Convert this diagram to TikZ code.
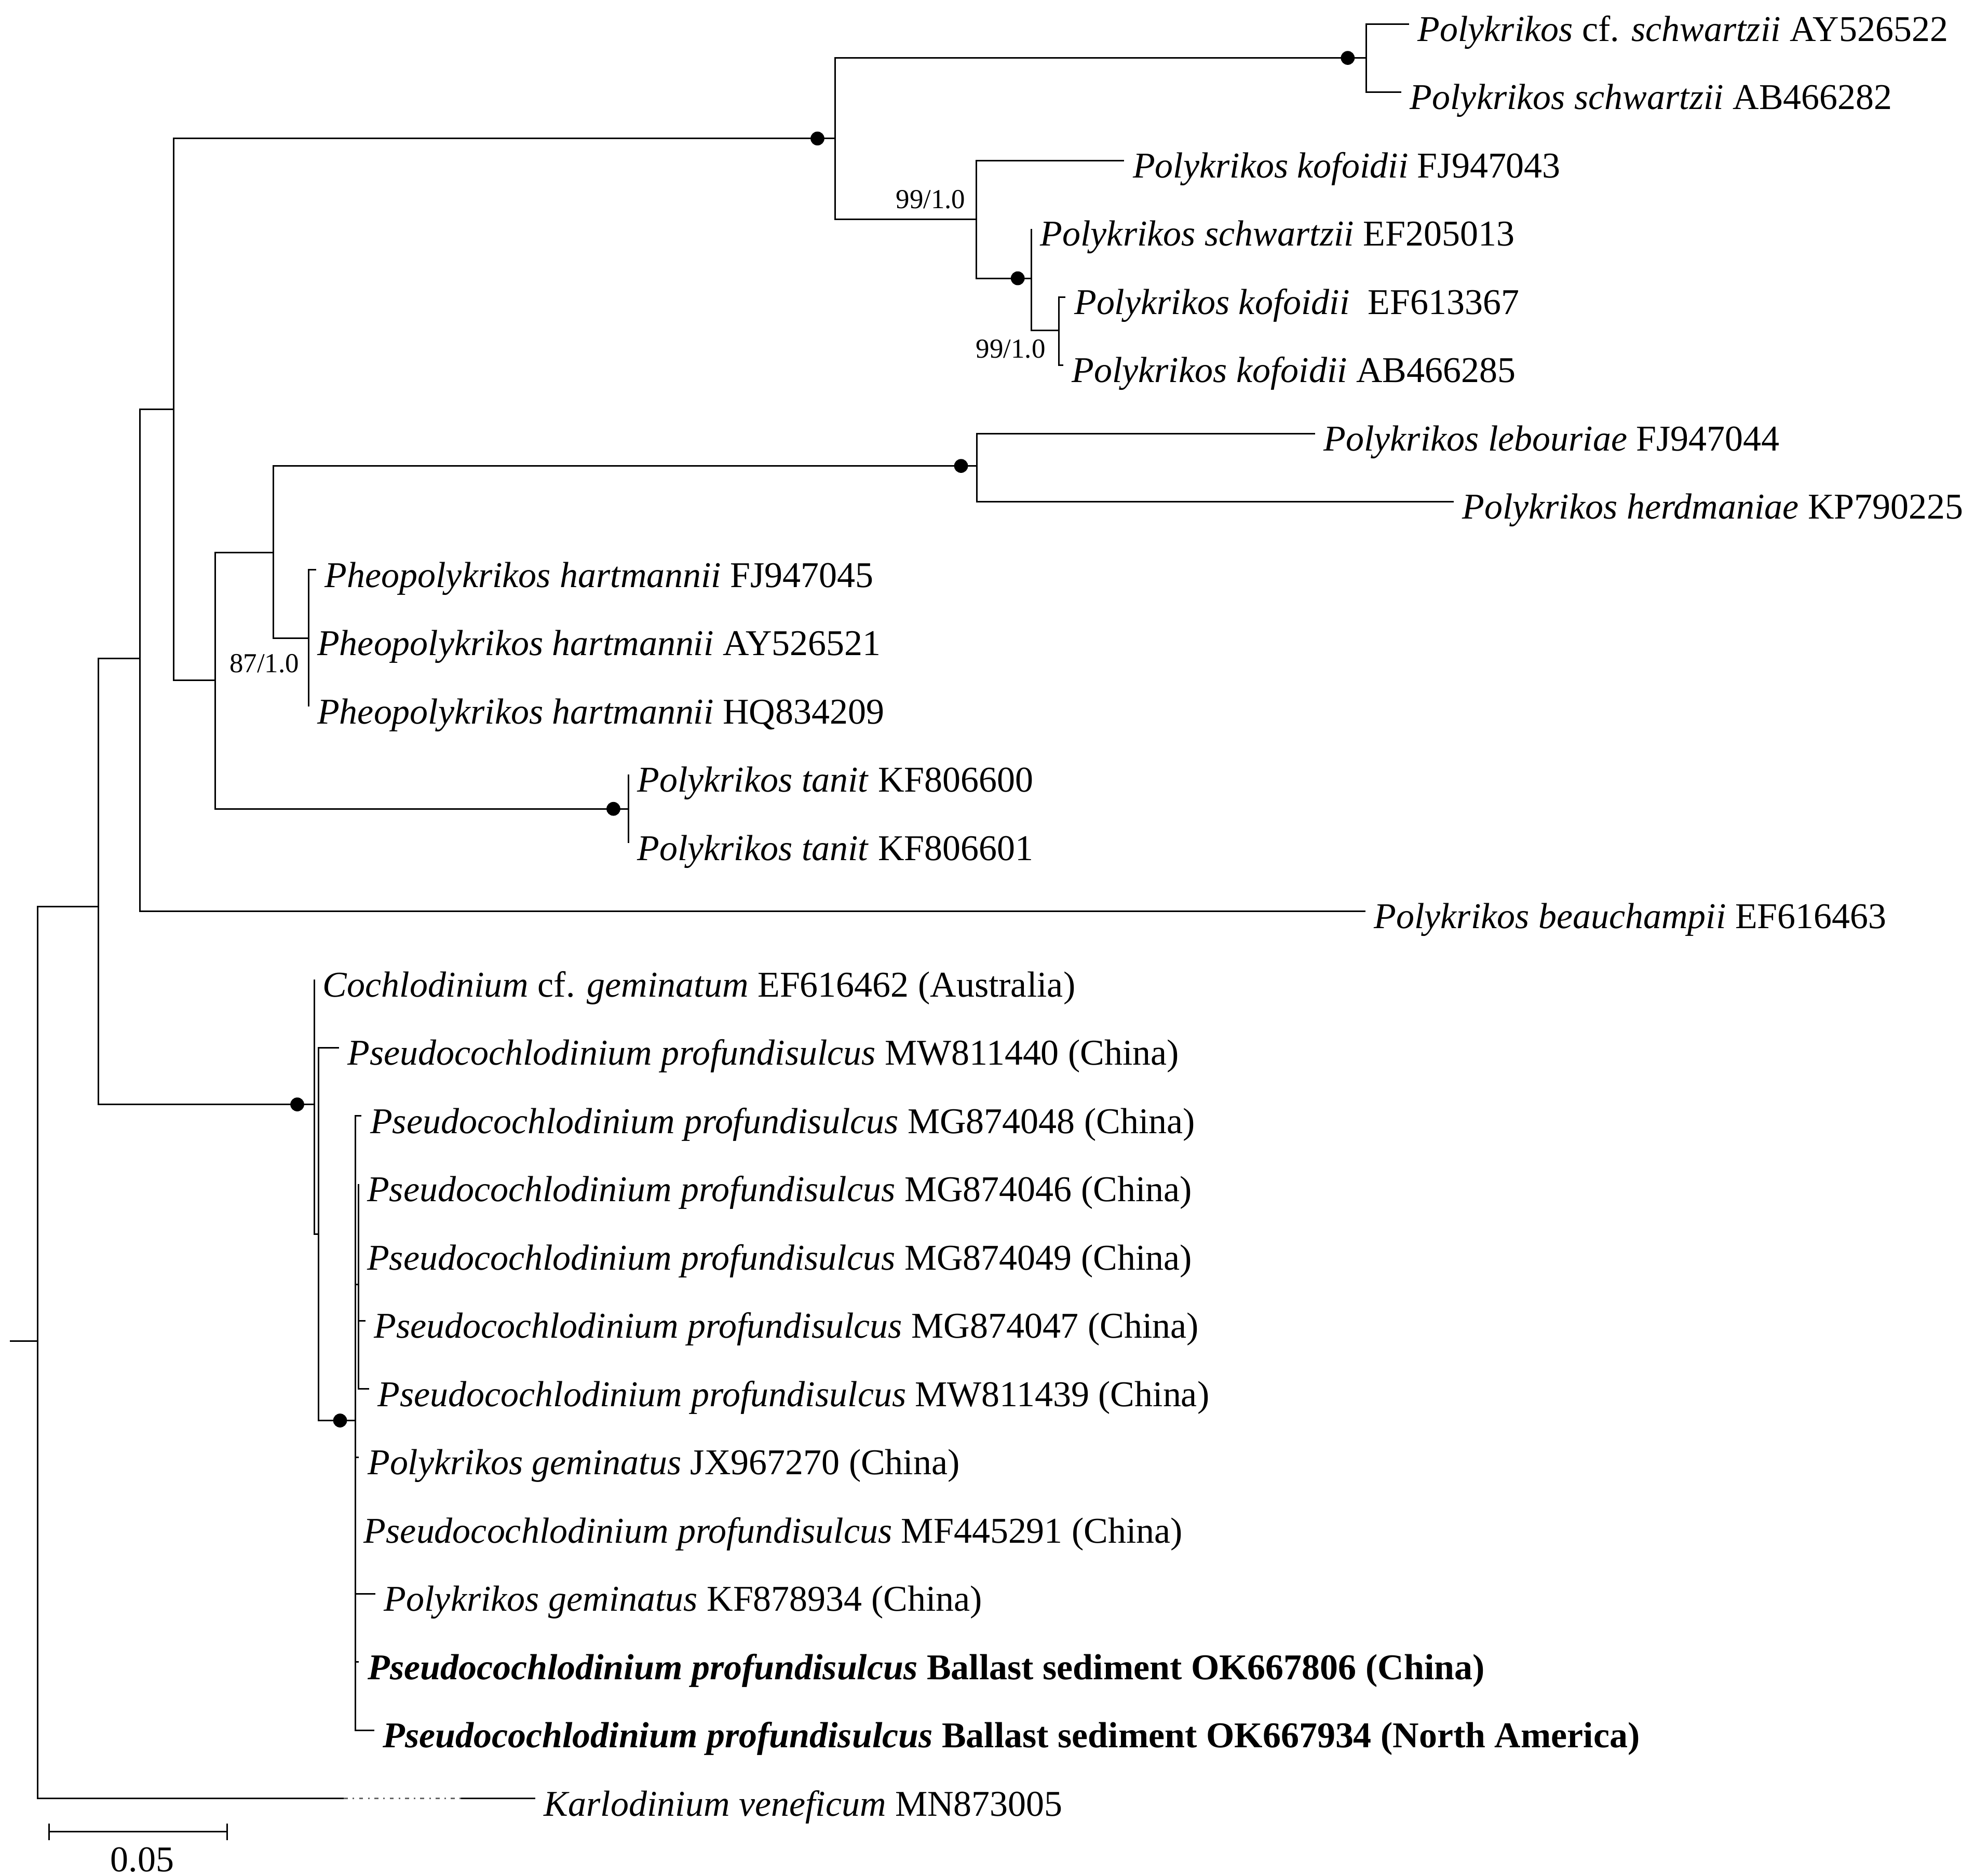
\documentclass[tikz,border=0pt]{standalone}
\usepackage{fontspec}
\setmainfont{Liberation Serif}
\usetikzlibrary{positioning}

\begin{document}
\begin{tikzpicture}[x=0.01cm,y=-0.01cm,line width=0.35pt,
  leaf/.style={anchor=west,inner xsep=1.8pt,inner ysep=0pt,text height=0.78em,text depth=0pt,font=\fontsize{8.2}{9}\selectfont},
  boot/.style={anchor=east,inner sep=0pt,font=\fontsize{6.2}{7}\selectfont},
  full/.style={circle,fill=black,inner sep=0pt,minimum size=0.11cm}]

        \useasboundingbox (0,0) rectangle (1568,1489.7);

        % inner nodes of the tree
        \coordinate (base) at (8,1065);
        \coordinate (root) at (30,1065);
        \coordinate (a) at (78,720);
        \coordinate (b) at (111,523);
        \coordinate (c) at (138,325);
        \coordinate (d) at (663,110);
        \coordinate (e) at (171,540);
        \coordinate (f) at (1084.6,46);
        \coordinate (g) at (775,174);
        \coordinate (h) at (819,221);
        \coordinate (i) at (840.6,262.5);
        \coordinate (j) at (217,438.6);
        \coordinate (k) at (775.5,370);
        \coordinate (l) at (245,506.8);
        \coordinate (m) at (499,642.3);
        \coordinate (n1) at (249.4,877);
        \coordinate (n2) at (253,980);
        \coordinate (n3) at (282,1128);
        \coordinate (n4) at (284.5,1020);
        \coordinate (kb1) at (273,1428.2);
        \coordinate (kb2) at (366,1428.2);

        % leaves
        \node[leaf] (AY526522) at (1118.6,19) {\textit{Polykrikos} cf. \textit{schwartzii} AY526522};
        \node[leaf] (AB466282) at (1112.5,73.2) {\textit{Polykrikos schwartzii} AB466282};
        \node[leaf] (FJ947043) at (892.5,127.4) {\textit{Polykrikos kofoidii} FJ947043};
        \node[leaf] (EF205013) at (819,181.6) {\textit{Polykrikos schwartzii} EF205013};
        \node[leaf] (EF613367) at (846,235.8) {\textit{Polykrikos kofoidii}\ \ EF613367};
        \node[leaf] (AB466285) at (844,290) {\textit{Polykrikos kofoidii} AB466285};
        \node[leaf] (FJ947044) at (1044,344.2) {\textit{Polykrikos lebouriae} FJ947044};
        \node[leaf] (KP790225) at (1154,398.4) {\textit{Polykrikos herdmaniae} KP790225};
        \node[leaf] (FJ947045) at (251,452.6) {\textit{Pheopolykrikos hartmannii} FJ947045};
        \node[leaf] (AY526521) at (245,506.8) {\textit{Pheopolykrikos hartmannii} AY526521};
        \node[leaf] (HQ834209) at (245,561) {\textit{Pheopolykrikos hartmannii} HQ834209};
        \node[leaf] (KF806600) at (499,615.2) {\textit{Polykrikos tanit} KF806600};
        \node[leaf] (KF806601) at (499,669.4) {\textit{Polykrikos tanit} KF806601};
        \node[leaf] (EF616463) at (1084,723.6) {\textit{Polykrikos beauchampii} EF616463};
        \node[leaf] (EF616462) at (249.4,777.8) {\textit{Cochlodinium} cf. \textit{geminatum} EF616462 (Australia)};
        \node[leaf] (MW811440) at (269,832) {\textit{Pseudocochlodinium profundisulcus} MW811440 (China)};
        \node[leaf] (MG874048) at (287,886.2) {\textit{Pseudocochlodinium profundisulcus} MG874048 (China)};
        \node[leaf] (MG874046) at (284.5,940.4) {\textit{Pseudocochlodinium profundisulcus} MG874046 (China)};
        \node[leaf] (MG874049) at (284.5,994.6) {\textit{Pseudocochlodinium profundisulcus} MG874049 (China)};
        \node[leaf] (MG874047) at (290,1048.8) {\textit{Pseudocochlodinium profundisulcus} MG874047 (China)};
        \node[leaf] (MW811439) at (293,1103) {\textit{Pseudocochlodinium profundisulcus} MW811439 (China)};
        \node[leaf] (JX967270) at (285,1157.2) {\textit{Polykrikos geminatus} JX967270 (China)};
        \node[leaf] (MF445291) at (282,1211.4) {\textit{Pseudocochlodinium profundisulcus} MF445291 (China)};
        \node[leaf] (KF878934) at (298,1265.6) {\textit{Polykrikos geminatus} KF878934 (China)};
        \node[leaf] (OK667806) at (285,1319.8) {\textbf{\textit{Pseudocochlodinium profundisulcus} Ballast sediment OK667806 (China)}};
        \node[leaf] (OK667934) at (297,1374) {\textbf{\textit{Pseudocochlodinium profundisulcus} Ballast sediment OK667934 (North America)}};
        \node[leaf] (MN873005) at (425,1428.2) {\textit{Karlodinium veneficum} MN873005};

        % branches
        \draw (base) -- (root);
        \draw (root) |- (a);
        \draw (root) |- (kb1);
        \draw[gray!80!black,dash pattern=on 0.9pt off 1.1pt on 0.35pt off 1.1pt] (kb1) -- (kb2);
        \draw (kb2) -- (MN873005.west);
        \draw (a) |- (b);
        \draw (a) |- (n1);
        \draw (b) |- (c);
        \draw (b) |- (EF616463.west);
        \draw (c) |- (d);
        \draw (c) |- (e);
        \draw (d) |- (f);
        \draw (d) |- (g);
        \draw (f) |- (AY526522.west);
        \draw (f) |- (AB466282.west);
        \draw (g) |- (FJ947043.west);
        \draw (g) |- (h);
        \draw (h) |- (EF205013.west);
        \draw (h) |- (i);
        \draw (i) |- (EF613367.west);
        \draw (i) |- (AB466285.west);
        \draw (e) |- (j);
        \draw (e) |- (m);
        \draw (j) |- (k);
        \draw (j) |- (l);
        \draw (k) |- (FJ947044.west);
        \draw (k) |- (KP790225.west);
        \draw (l) |- (FJ947045.west);
        \draw (l) |- (AY526521.west);
        \draw (l) |- (HQ834209.west);
        \draw (m) |- (KF806600.west);
        \draw (m) |- (KF806601.west);
        \draw (n1) |- (EF616462.west);
        \draw (n1) |- (n2);
        \draw (n2) |- (MW811440.west);
        \draw (n2) |- (n3);
        \draw (n3) |- (MG874048.west);
        \draw (n3) |- (n4);
        \draw (n4) |- (MG874046.west);
        \draw (n4) |- (MG874049.west);
        \draw (n4) |- (MG874047.west);
        \draw (n4) |- (MW811439.west);
        \draw (n3) |- (JX967270.west);
        \draw (n3) |- (MF445291.west);
        \draw (n3) |- (KF878934.west);
        \draw (n3) |- (OK667806.west);
        \draw (n3) |- (OK667934.west);

        % full support
        \node[full] (s1) at (1070,46) {};
        \node[full] (s2) at (649,110) {};
        \node[full] (s3) at (808,221) {};
        \node[full] (s4) at (763,370) {};
        \node[full] (s5) at (487,642.3) {};
        \node[full] (s6) at (236,877) {};
        \node[full] (s7) at (270,1128) {};

        % support values
        \node[boot] (bs1) at (767,158.5) {99/1.0};
        \node[boot] (bs2) at (830.6,277) {99/1.0};
        \node[boot] (bs3) at (238,527) {87/1.0};

        % scale bar
        \coordinate (sb1) at (39,1454.6);
        \coordinate (sb2) at (180.5,1454.6);
        \draw (sb1) -- (sb2);
        \draw (sb1) ++(0,-6.5) -- ++(0,13);
        \draw (sb2) ++(0,-6.5) -- ++(0,13);
        \node[font=\fontsize{8.2}{9}\selectfont,inner sep=0pt] (sblab) at (113,1477) {0.05};
      \end{tikzpicture}
\end{document}
